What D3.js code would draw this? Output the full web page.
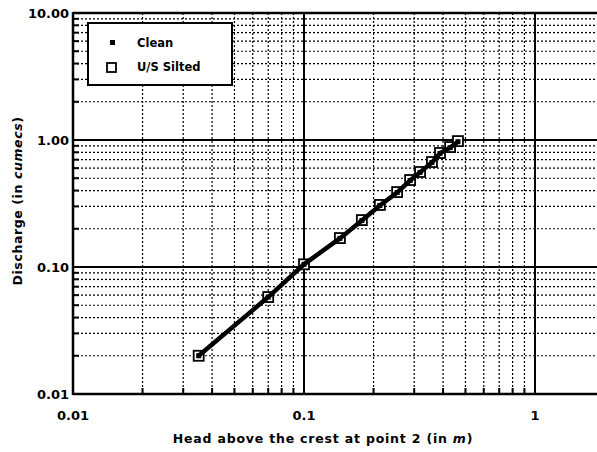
<!DOCTYPE html>
<html>
<head>
<meta charset="utf-8">
<script src="https://cdn.jsdelivr.net/npm/d3@7"></script>
<style>
  body { margin: 0; background: #fff; }
  svg { display: block; font-family: "DejaVu Sans", sans-serif; font-weight: bold; }
</style>
</head>
<body>
<div id="chart"></div>
<script>
var width = 597,
    height = 452;

// head above crest (m) and discharge (cumecs)
var headClean = [0.035, 0.07, 0.10, 0.143, 0.178, 0.213, 0.253, 0.288, 0.318, 0.358, 0.388, 0.429, 0.464];
var qClean    = [0.020, 0.058, 0.105, 0.168, 0.232, 0.305, 0.386, 0.48, 0.556, 0.665, 0.785, 0.87, 0.97];
var headSilted = [0.035, 0.07, 0.10, 0.143, 0.178, 0.213, 0.253, 0.288, 0.318, 0.358, 0.388, 0.429, 0.464];
var qSilted    = [0.020, 0.058, 0.105, 0.169, 0.234, 0.308, 0.389, 0.484, 0.56, 0.671, 0.79, 0.88, 0.98];

var xTickVals = [0.01, 0.1, 1];
var xTickLabels = ["0.01", "0.1", "1"];
var yTickVals = [0.01, 0.1, 1, 10];
var yTickLabels = ["0.01", "0.10", "1.00", "10.00"];

var legendNames = ["Clean", "U/S Silted"];

var x = d3.scaleLog().domain([0.01, 10]).range([73, 766]);
var y = d3.scaleLog().domain([0.01, 10]).range([394, 13]);

var svg = d3.select("#chart").append("svg")
    .attr("width", width).attr("height", height);

// minor values 2..9 in each decade
var minors = function(lo, hi) {
    var out = [];
    for (var d = lo; d < hi; d *= 10) {
        for (var k = 2; k <= 9; k++) out.push(d * k);
    }
    return out;
};
var xMinor = minors(0.01, 10);
var yMinor = minors(0.01, 10);

var grid = svg.append("g");

grid.selectAll("line.xm").data(xMinor).enter().append("line")
    .attr("x1", function(d) { return x(d); }).attr("x2", function(d) { return x(d); })
    .attr("y1", y(10)).attr("y2", y(0.01))
    .attr("stroke", "#000").attr("stroke-width", 1.2).attr("stroke-dasharray", "2,2");

grid.selectAll("line.ym").data(yMinor).enter().append("line")
    .attr("x1", x(0.01)).attr("x2", width)
    .attr("y1", function(d) { return y(d); }).attr("y2", function(d) { return y(d); })
    .attr("stroke", "#000").attr("stroke-width", 1.2).attr("stroke-dasharray", "2,2");

// major lines
grid.selectAll("line.xM").data([0.1, 1]).enter().append("line")
    .attr("x1", function(d) { return x(d); }).attr("x2", function(d) { return x(d); })
    .attr("y1", y(10)).attr("y2", y(0.01))
    .attr("stroke", "#000").attr("stroke-width", 2);

grid.selectAll("line.yM").data([0.1, 1]).enter().append("line")
    .attr("x1", x(0.01)).attr("x2", width)
    .attr("y1", function(d) { return y(d); }).attr("y2", function(d) { return y(d); })
    .attr("stroke", "#000").attr("stroke-width", 2);

// frame (left, top, bottom)
svg.append("line").attr("x1", x(0.01)).attr("x2", x(0.01)).attr("y1", y(10) - 1).attr("y2", y(0.01) + 1)
    .attr("stroke", "#000").attr("stroke-width", 2.5);
svg.append("line").attr("x1", x(0.01)).attr("x2", width).attr("y1", y(10)).attr("y2", y(10))
    .attr("stroke", "#000").attr("stroke-width", 2.5);
svg.append("line").attr("x1", x(0.01)).attr("x2", width).attr("y1", y(0.01)).attr("y2", y(0.01))
    .attr("stroke", "#000").attr("stroke-width", 2.5);

// inward ticks
svg.selectAll("line.ty").data(yMinor).enter().append("line")
    .attr("x1", x(0.01)).attr("x2", x(0.01) + 6)
    .attr("y1", function(d) { return y(d); }).attr("y2", function(d) { return y(d); })
    .attr("stroke", "#000").attr("stroke-width", 2);
svg.selectAll("line.tx").data(xMinor).enter().append("line")
    .attr("x1", function(d) { return x(d); }).attr("x2", function(d) { return x(d); })
    .attr("y1", y(0.01)).attr("y2", y(0.01) - 6)
    .attr("stroke", "#000").attr("stroke-width", 2);

// tick labels
svg.selectAll("text.yl").data(yTickVals).enter().append("text")
    .attr("x", 69).attr("y", function(d) { return y(d) + 5; })
    .attr("text-anchor", "end").attr("font-size", 13)
    .text(function(d, i) { return yTickLabels[i]; });

svg.selectAll("text.xl").data(xTickVals).enter().append("text")
    .attr("x", function(d) { return x(d); }).attr("y", 420)
    .attr("text-anchor", "middle").attr("font-size", 13)
    .text(function(d, i) { return xTickLabels[i]; });

// axis titles
var xt = svg.append("text").attr("x", 323).attr("y", 443)
    .attr("text-anchor", "middle").attr("font-size", 12.5).attr("letter-spacing", 0.8);
xt.append("tspan").text("Head above the crest at point 2 (in ");
xt.append("tspan").attr("font-style", "italic").text("m");
xt.append("tspan").text(")");

var yt = svg.append("text").attr("transform", "translate(22,201) rotate(-90)")
    .attr("text-anchor", "middle").attr("font-size", 12.5).attr("letter-spacing", 0.6);
yt.append("tspan").text("Discharge (in ");
yt.append("tspan").attr("font-style", "italic").text("cumecs");
yt.append("tspan").text(")");

// series
var cleanData = headClean.map(function(h, i) { return [h, qClean[i]]; });
var siltData = headSilted.map(function(h, i) { return [h, qSilted[i]]; });

var line = d3.line()
    .x(function(d) { return x(d[0]); })
    .y(function(d) { return y(d[1]); });

svg.selectAll("rect.silt").data(siltData).enter().append("rect")
    .attr("x", function(d) { return x(d[0]) - 5; }).attr("y", function(d) { return y(d[1]) - 5; })
    .attr("width", 10).attr("height", 10)
    .attr("fill", "#fff").attr("stroke", "#000").attr("stroke-width", 1.8);

svg.append("path").datum(cleanData).attr("d", line)
    .attr("fill", "none").attr("stroke", "#000").attr("stroke-width", 4.5);
svg.append("path").datum(siltData).attr("d", line)
    .attr("fill", "none").attr("stroke", "#000").attr("stroke-width", 3);

svg.selectAll("rect.clean").data(cleanData).enter().append("rect")
    .attr("x", function(d) { return x(d[0]) - 2.5; }).attr("y", function(d) { return y(d[1]) - 2.5; })
    .attr("width", 5).attr("height", 5)
    .attr("fill", "#000");

// legend
var lg = svg.append("g");
lg.append("rect").attr("x", 88).attr("y", 23).attr("width", 144).attr("height", 62)
    .attr("fill", "#fff").attr("stroke", "#000").attr("stroke-width", 2);
lg.append("rect").attr("x", 110).attr("y", 40).attr("width", 5).attr("height", 5).attr("fill", "#000");
lg.append("rect").attr("x", 107).attr("y", 63).attr("width", 9).attr("height", 9)
    .attr("fill", "#fff").attr("stroke", "#000").attr("stroke-width", 1.8);
lg.selectAll("text").data(legendNames).enter().append("text")
    .attr("x", 137).attr("y", function(d, i) { return 47 + i * 24; })
    .attr("font-size", 11.5)
    .text(function(d) { return d; });
</script>
</body>
</html>
